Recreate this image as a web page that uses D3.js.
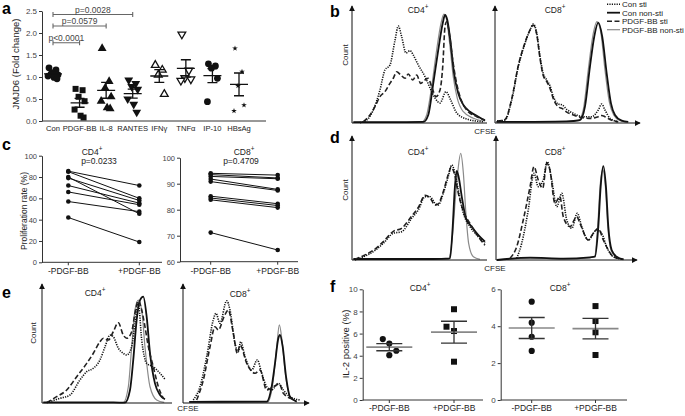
<!DOCTYPE html>
<html lang="en">
<head>
<meta charset="UTF-8">
<title>JMJD6 / PDGF-BB figure</title>
<style>
    body { margin: 0; background: #fff; }
</style>
</head>
<body>
<script src="https://cdn.jsdelivr.net/npm/d3@7"></script>
<script type="text/javascript">
    // ---- panel a : JMJD6 fold change
    var aCats = ["Con", "PDGF-BB", "IL-8", "RANTES", "IFNγ", "TNFα", "IP-10", "HBsAg"];
    var aCon = [1.21, 1.16, 1.1, 1.05, 1.02, 0.99, 0.96];
    var aPdgf = [0.73, 0.7, 0.55, 0.45, 0.26, 0.12, 0.08];
    var aIl8 = [1.65, 0.9, 0.75, 0.55, 0.45, 0.3, 0.28];
    var aRantes = [0.93, 0.85, 0.78, 0.72, 0.5, 0.38, 0.2];
    var aIfng = [1.27, 1.16, 1.05, 0.61];
    var aTnfa = [1.97, 1.15, 0.98, 0.95, 0.92];
    var aIp10 = [1.3, 1.25, 1.2, 0.97, 0.44];
    var aHbsag = [1.65, 1.12, 0.8, 0.36, 0.23];
    var aTicks = [0, 0.5, 1.0, 1.5, 2.0, 2.5];
    var aCompare = [["RANTES", 2.42, "p=0.0028"], ["IL-8", 2.16, "p=0.0579"], ["PDGF-BB", 1.78, "p<0.0001"]];

    // ---- panel c : proliferation rate, paired
    var cGroups = ["-PDGF-BB", "+PDGF-BB"];
    var cCd4Minus = [85.5, 85, 80, 79, 72, 66, 57, 42];
    var cCd4Plus = [72, 60, 45.5, 58, 55.5, 54, 47.5, 19];
    var cCd8Minus = [94, 93.5, 92.8, 91.8, 90.8, 85.2, 84.5, 83.8, 71.2];
    var cCd8Plus = [93.3, 92.2, 91.9, 87.8, 87.4, 82.3, 81.6, 80.8, 64.5];
    var cCd4Ticks = [0, 20, 40, 60, 80, 100];
    var cCd8Ticks = [60, 70, 80, 90, 100];

    // ---- panel f : IL-2 positive
    var fCd4Minus = [5.5, 5.1, 4.45, 4.05];
    var fCd4Plus = [8.2, 6.62, 6.23, 3.46];
    var fCd8Minus = [5.33, 4.19, 3.43, 2.66];
    var fCd8Plus = [5.09, 4.28, 3.67, 2.44];
    var fCd4Ticks = [0, 2, 4, 6, 8, 10];
    var fCd8Ticks = [0, 2, 4, 6];

    // ---- CFSE histograms, [CFSE %, count %]
    var legendNames = ["Con sti", "Con non-sti", "PDGF-BB sti", "PDGF-BB non-sti"];

    var bCd4ConSti = [[5.9,0.3],[10.9,2.6],[15.8,11.3],[20.7,28.7],[24.4,46.1],[28.1,50.4],[31.9,72.2],[34.3,84.3],[36.8,75],[40,60.9],[43,62.9],[45.4,59.1],[49.1,50.4],[54.1,40.3],[57.8,30.4],[61.5,21.7],[65.2,17.4],[69.6,27.2],[73.1,20],[77.6,8.7],[85,3.5],[97,1.1]];
    var bCd4ConNon = [[1,0.8],[40,0.8],[52.8,0.9],[56.5,7],[60.2,34.5],[63.9,63.5],[67.2,86.7],[68.9,93.9],[70.6,89.6],[73.1,69.3],[75.6,43.2],[78.7,25.8],[82.5,15.7],[87.4,9.8],[93.6,5.5],[98.5,2]];
    var bCd4PdgfSti = [[8.4,1.1],[13.3,7],[17,14.2],[20.7,22.9],[24.4,27.2],[28.1,34.5],[30.6,38.9],[33.1,44.6],[36.1,41.7],[39.3,38.9],[41.7,42.6],[45,37.4],[47.9,41.7],[50.9,34.5],[54.1,37.4],[56.5,38.9],[59,31.6],[62.2,22.9],[65.2,28.7],[67.2,49],[68.9,83.7],[70.1,88.1],[72.1,78],[74.6,54.8],[77,37.4],[80,22.9],[85,11.3],[92.4,5.5],[98.5,2.6]];
    var bCd4PdgfNon = [[1,0.5],[40,0.5],[51.6,0.9],[55.3,7],[59,31.6],[62.7,63.5],[65.9,86.7],[68.1,94.8],[70.1,89.6],[72.6,66.3],[75,40.3],[78,21.5],[82.5,9.8],[89.9,4.1],[97.3,1.5]];

    var bCd8ConSti = [[1.4,1.7],[7,2.6],[11.7,20],[16.3,49],[21,69.3],[24.5,80.9],[26.8,86.1],[29.2,78],[31.5,57.7],[33.8,42.6],[36.2,37.4],[38.5,32.2],[40.8,22.9],[44.3,16.5],[47.1,15.7],[50.1,11.9],[54.8,8.4],[61.7,5.5],[67.6,5.5],[72.2,11.3],[74.6,16.5],[76.9,11.3],[80.4,4.1],[86.2,1.1]];
    var bCd8ConNon = [[1,0.9],[50,1.5],[59.4,2.6],[62.9,14.2],[66.4,49],[69.4,75],[72.2,87.2],[75,75],[78.1,43.2],[81.1,17.1],[83.9,7],[88.6,2],[93.2,0.9]];
    var bCd8PdgfSti = [[1.4,1.7],[7,3],[11.7,21],[16.3,50],[21,70],[24.5,81],[26.8,85],[29.2,77],[31.5,56],[33.8,41],[36.2,36],[38.5,30],[40.8,21],[44.3,14],[47.1,12.5],[50.1,9.5],[54.8,7],[61.7,4.5],[67.6,4],[72.2,5.5],[74.6,6.5],[76.9,5.5],[80.4,3],[86.2,1]];
    var bCd8PdgfNon = [[1,0.9],[50,1.2],[58.3,2],[61.7,11.3],[65.2,46.1],[68.3,75],[71.3,88.1],[74.1,78],[76.9,46.1],[79.9,18.5],[83,7],[87.4,2],[92.1,0.9]];

    var dCd4ConSti = [[2.2,0],[8.4,2.7],[15.8,6.8],[23.2,13.7],[30.6,21.9],[36.8,23.2],[44.2,34.2],[49.1,41],[54.1,51.9],[57.8,51.9],[61.5,46.5],[63.9,45.1],[67.6,54.7],[71.3,68.3],[73.9,77.9],[76.3,71.1],[78.7,57.4],[82.5,38.3],[87.4,27.3],[92.4,20.5],[98.5,13.7]];
    var dCd4ConNon = [[1,0.8],[60,0.8],[72.6,1.4],[74.6,27.3],[76.1,58],[77.6,73],[79,68],[81.3,52],[84.4,34.2],[88.7,27.3],[93.6,20.5],[98.5,15]];
    var dCd4PdgfSti = [[2,0.5],[8.4,3.5],[15.8,8],[23.2,15],[30.6,23.5],[36.8,26],[44.2,36],[49.1,43],[54.1,53],[57.8,51],[61.5,45],[63.9,46],[67.6,56],[71.3,70],[73.5,76],[76,70],[78.7,55],[82.5,40],[87.4,30],[92.4,21],[98.5,12]];
    var dCd4PdgfNon = [[1,0.6],[60,0.6],[71.3,0.6],[74.6,21.9],[76.5,49.2],[78.5,73.8],[80.5,87.4],[82.5,71.1],[84.2,41],[86.4,13.7],[89.9,2.7],[94.8,0.6]];

    var dCd8ConSti = [[14.9,1.4],[18.5,13.7],[23.2,41],[27.3,71.1],[30.4,60.1],[34,65.6],[36.9,80.6],[40.1,65.6],[43.7,43.7],[47.3,54.7],[50.9,32.8],[54.5,26],[58.5,38.3],[61.7,27.3],[66.4,16.4],[72.4,24.6],[76,21.9],[79.6,10.9],[84.4,2.7],[91.6,0.6]];
    var dCd8ConNon = [[0.7,0],[24.5,1.9],[48.4,1.1],[67.6,2.2],[71.2,2.7],[73.6,27.3],[75.3,60.1],[77.2,77],[79.1,60.1],[80.8,27.3],[83.2,8.2],[86.8,2.7],[91.6,0.6]];
    var dCd8PdgfSti = [[10.1,1.4],[14.9,10.9],[19.6,32.8],[24.5,60.1],[27.3,76.5],[30.4,65.6],[33.6,58.8],[36.5,79.3],[38.8,73.8],[42.4,46.5],[46,51.9],[48.4,35.5],[53.2,27.3],[58.1,35.5],[60.4,30.1],[66.4,16.4],[70,21.9],[73.6,26],[77.2,16.4],[80.8,8.2],[84.4,2.7],[91.6,0.6]];
    var dCd8PdgfNon = [[0.7,0],[24.5,1.5],[48.4,1],[67.6,1.8],[71,3],[73.3,30],[75,62],[76.8,73.8],[78.7,60],[80.4,28],[82.8,8],[86.4,2.5],[91.2,0.5]];

    var eCd4ConSti = [[3.6,0.3],[13.8,4],[21.5,6.8],[29.2,19.7],[34.4,26.8],[39.5,29.7],[44.6,36.8],[48.5,48.1],[52.3,58.1],[54.8,56.7],[58.7,46.8],[62.5,42.5],[65.2,41],[69,48.1],[71.5,68.1],[74.1,85.2],[76.7,53.8],[80.5,33.9],[85.6,31],[90.8,25.4],[94.6,20.3]];
    var eCd4ConNon = [[1,0.5],[55,0.5],[63.8,0.3],[67.7,11.1],[70.2,36.8],[72.8,70.9],[75.4,88],[77.9,90.9],[80.5,73.8],[83.1,42.5],[86.9,16.8],[90.8,6.8],[94.6,3.2]];
    var eCd4PdgfSti = [[3.6,0.3],[11.3,5.4],[19,11.1],[26.7,22.5],[34.4,33.9],[39.5,42.5],[44.6,52.4],[47.2,55.3],[51,53.8],[54.8,60.9],[58.7,68.6],[62.5,58.1],[65.2,55.3],[69,60.9],[71.5,76.7],[74.1,87.4],[76.7,79.5],[79.2,65.2],[81.8,48.1],[85.6,31],[89.5,13.9],[93.3,4]];
    var eCd4PdgfNon = [[1,0.3],[55,0.3],[62.5,0.3],[66.4,13.9],[69,48.1],[71.5,79.5],[74.1,88],[76.7,79.5],[79.2,48.1],[83.1,13.9],[88.2,2.6],[94,0.5]];

    var eCd8ConSti = [[8.3,2.6],[13.7,13.9],[19.1,39.6],[24.4,70.9],[26.6,76.7],[29.8,68.1],[35.2,87.4],[37.9,79.5],[41.9,51],[44.6,43.8],[46.5,52.4],[50,39.6],[55.4,28.2],[59.9,36.8],[63.5,25.4],[67.5,13.9],[71.5,11.1],[76.9,16.8],[80.9,11.1],[86.3,5.4],[94.4,2.6]];
    var eCd8ConNon = [[5,1],[60,1.1],[67.5,1.1],[71.5,13.9],[74.2,33.9],[76.9,55.3],[78.2,58.1],[80.4,48.1],[83.1,22.5],[86.3,5.4],[91.7,1.1]];
    var eCd8PdgfSti = [[11,2.6],[16.4,19.7],[21.8,48.1],[25.8,65.2],[28.5,62.4],[33.1,73.8],[36.5,79.5],[40.6,59.6],[43.8,42.5],[46,49.6],[51.4,33.9],[58.1,25.4],[62.1,28.2],[67.5,11.1],[72.8,13.9],[77.7,16.2],[80.9,8.3],[89,3.2]];
    var eCd8PdgfNon = [[5,0.8],[60,0.8],[68.5,0.9],[72.8,19.7],[75.6,48.1],[77.7,66.7],[79.8,53.8],[82.5,25.4],[86.3,5.4],[91.7,1.1]];

    //----------------------------------------------------------------
    var FONT = '"Liberation Sans", Arial, sans-serif';
    var w = 685, h = 416;
    var svg = d3.select("body").append("svg")
        .attr("width", w).attr("height", h)
        .style("font-family", FONT);

    svg.append("defs").append("marker")
        .attr("id", "arr").attr("viewBox", "0 0 8 8")
        .attr("refX", 7).attr("refY", 4)
        .attr("markerWidth", 6).attr("markerHeight", 6)
        .attr("markerUnits", "userSpaceOnUse").attr("orient", "auto")
        .append("path").attr("d", "M0,0L8,4L0,8z").attr("fill", "#111");

    function label(t, x, y, size, anchor, fill) {
        return svg.append("text").attr("x", x).attr("y", y)
            .attr("font-size", size).attr("text-anchor", anchor || "middle")
            .attr("fill", fill || "#222").text(t);
    }
    function panelLabel(t, x, y) {
        label(t, x, y, 16, "start", "#000").attr("font-weight", "bold");
    }
    function supText(x, y, base, sup, size) {
        var t = svg.append("text").attr("x", x).attr("y", y)
            .attr("text-anchor", "middle").attr("font-size", size).attr("fill", "#222");
        t.append("tspan").text(base);
        t.append("tspan").attr("dy", -4).attr("font-size", size * 0.75).text(sup);
    }
    function vText(t, x, y, size) {
        svg.append("text").attr("transform", "translate(" + x + "," + y + ") rotate(-90)")
            .attr("text-anchor", "middle").attr("font-size", size).attr("fill", "#222").text(t);
    }
    function leftAxis(scale, ticks, x, fmt, size) {
        var g = svg.append("g").attr("transform", "translate(" + x + ",0)")
            .call(d3.axisLeft(scale).tickValues(ticks).tickFormat(fmt)
                .tickSize(3).tickSizeOuter(0).tickPadding(2));
        g.attr("font-family", FONT).attr("font-size", size);
        g.select(".domain").attr("stroke", "#333");
        g.selectAll(".tick line").attr("stroke", "#333");
        g.selectAll(".tick text").attr("fill", "#444");
        return g;
    }
    function bottomLine(x1, x2, y, xs, ly, size) {
        svg.append("line").attr("x1", x1).attr("x2", x2).attr("y1", y).attr("y2", y).attr("stroke", "#333");
        xs.domain().forEach(function(c) {
            svg.append("line").attr("x1", xs(c)).attr("x2", xs(c)).attr("y1", y).attr("y2", y + 3).attr("stroke", "#333");
            label(c, xs(c), ly, size);
        });
    }

    // ================= panel a
    panelLabel("a", 2, 14);
    var ay = d3.scaleLinear().domain([0, 2.5]).range([121, 11]);
    var ax = d3.scalePoint().domain(aCats).range([53, 239]);
    var aData = [aCon, aPdgf, aIl8, aRantes, aIfng, aTnfa, aIp10, aHbsag];
    var aSym = [d3.symbolCircle, d3.symbolSquare, d3.symbolTriangle, d3.symbolTriangle,
        d3.symbolTriangle, d3.symbolTriangle, d3.symbolCircle, d3.symbolStar];
    var aRot = [0, 0, 0, 180, 0, 180, 0, 0];
    var aOpen = [false, false, false, false, true, true, false, false];
    var aSize = [36, 36, 34, 34, 26, 26, 36, 10];
    var jit = [-4, 3, -1, 5, -5, 1, 4];

    leftAxis(ay, aTicks, 42, d3.format(".1f"), 8);
    svg.append("line").attr("x1", 42).attr("x2", 266).attr("y1", 121).attr("y2", 121).attr("stroke", "#333");
    aCats.forEach(function(c) { label(c, ax(c), 130.5, 7.6); });
    vText("JMJD6 (Fold change)", 18.5, 64, 9.5);

    aData.forEach(function(vals, k) {
        var cx = ax(aCats[k]);
        var sym = d3.symbol().type(aSym[k]).size(aSize[k]);
        svg.append("g").selectAll("path").data(vals).enter().append("path")
            .attr("d", sym)
            .attr("transform", function(d, i) {
                return "translate(" + (cx + jit[i % jit.length]) + "," + ay(d) + ") rotate(" + aRot[k] + ")";
            })
            .attr("fill", aOpen[k] ? "#fff" : "#111")
            .attr("stroke", "#111").attr("stroke-width", aOpen[k] ? 1.3 : 0);
        var m = d3.mean(vals), s = d3.deviation(vals) / Math.sqrt(vals.length);
        var p = "M" + cx + "," + ay(m + s) + "V" + ay(m - s) +
            "M" + (cx - 5) + "," + ay(m + s) + "h10" +
            "M" + (cx - 5) + "," + ay(m - s) + "h10" +
            "M" + (cx - 9) + "," + ay(m) + "h18";
        svg.append("path").attr("d", p).attr("stroke", "#111").attr("stroke-width", 1.3).attr("fill", "none");
    });

    aCompare.forEach(function(c) {
        var x1 = ax("Con"), x2 = ax(c[0]), y = ay(c[1]);
        svg.append("path")
            .attr("d", "M" + x1 + "," + (y - 2.5) + "V" + (y + 2.5) + "M" + x1 + "," + y + "H" + x2 +
                "M" + x2 + "," + (y - 2.5) + "V" + (y + 2.5))
            .attr("stroke", "#666").attr("stroke-width", 1.1).attr("fill", "none");
        label(c[2], (x1 + x2) / 2, y - 1.8, 8.5, "middle", "#444");
    });

    // ================= histograms (b, d, e)
    var styles = [
        {stroke: "#111", width: 1.6, dash: "1.2,1.2"},
        {stroke: "#111", width: 1.8, dash: null},
        {stroke: "#222", width: 1.6, dash: "5,2.5"},
        {stroke: "#8a8a8a", width: 1.2, dash: null}
    ];
    var hists = [
        {x0: 352, x1: 487, base: 123, top: 8, arrow: false, t: "CD4", tx: 418, ty: 13,
            curves: [bCd4ConSti, bCd4ConNon, bCd4PdgfSti, bCd4PdgfNon]},
        {x0: 495, x1: 638, base: 123, top: 8, arrow: true, t: "CD8", tx: 555, ty: 13,
            curves: [bCd8ConSti, bCd8ConNon, bCd8PdgfSti, bCd8PdgfNon]},
        {x0: 352, x1: 487, base: 260, top: 138, arrow: false, t: "CD4", tx: 418, ty: 155,
            curves: [dCd4ConSti, dCd4ConNon, dCd4PdgfSti, dCd4PdgfNon]},
        {x0: 496, x1: 635, base: 260, top: 138, arrow: true, t: "CD8", tx: 555, ty: 155,
            curves: [dCd8ConSti, dCd8ConNon, dCd8PdgfSti, dCd8PdgfNon]},
        {x0: 42, x1: 172, base: 403, top: 286, arrow: false, t: "CD4", tx: 95, ty: 295.5,
            curves: [eCd4ConSti, eCd4ConNon, eCd4PdgfSti, eCd4PdgfNon]},
        {x0: 183, x1: 307, base: 403, top: 286, arrow: true, t: "CD8", tx: 240, ty: 297,
            curves: [eCd8ConSti, eCd8ConNon, eCd8PdgfSti, eCd8PdgfNon]}
    ];

    hists.forEach(function(p) {
        var x = d3.scaleLinear().domain([0, 100]).range([p.x0, p.x1]);
        var y = d3.scaleLinear().domain([0, 100]).range([p.base, p.top]);
        var line = d3.line()
            .x(function(d) { return x(d[0]); })
            .y(function(d) { return y(d[1]); })
            .curve(d3.curveMonotoneX);
        var g = svg.append("g");
        [3, 1, 2, 0].forEach(function(k) {
            g.append("path").datum(p.curves[k]).attr("d", line)
                .attr("fill", "none")
                .attr("stroke", styles[k].stroke)
                .attr("stroke-width", styles[k].width)
                .attr("stroke-dasharray", styles[k].dash)
                .attr("stroke-linejoin", "round");
        });
        g.append("line").attr("x1", p.x0).attr("x2", p.x0).attr("y1", p.base).attr("y2", p.top - 2)
            .attr("stroke", "#111").attr("marker-end", "url(#arr)");
        var xl = g.append("line").attr("x1", p.x0).attr("x2", p.arrow ? p.x1 + 2 : p.x1)
            .attr("y1", p.base).attr("y2", p.base).attr("stroke", "#111");
        if (p.arrow) xl.attr("marker-end", "url(#arr)");
        supText(p.tx, p.ty, p.t, "+", 8.5);
    });

    panelLabel("b", 330, 17);
    panelLabel("d", 330, 143);
    panelLabel("e", 2, 298);
    vText("Count", 348, 55, 8);
    vText("Count", 348, 190, 8);
    vText("Count", 36, 333, 8);
    label("CFSE", 485, 133.5, 8);
    label("CFSE", 495, 271, 8);
    label("CFSE", 188, 411, 8);

    // legend
    var legY = [7, 15.5, 24, 32.5];
    legendNames.forEach(function(n, k) {
        svg.append("line").attr("x1", 607).attr("x2", 620)
            .attr("y1", legY[k] - 2.8).attr("y2", legY[k] - 2.8)
            .attr("stroke", styles[k].stroke).attr("stroke-width", styles[k].width)
            .attr("stroke-dasharray", styles[k].dash);
        label(n, 622, legY[k], 8, "start");
    });

    // ================= panel c
    panelLabel("c", 2, 150);
    var cx4 = d3.scalePoint().domain(cGroups).range([68.3, 139.3]);
    var cy4 = d3.scaleLinear().domain([0, 100]).range([262.3, 155.7]);
    var cx8 = d3.scalePoint().domain(cGroups).range([210.7, 277.7]);
    var cy8 = d3.scaleLinear().domain([60, 100]).range([261.7, 157.7]);

    function paired(xs, ys, before, after) {
        var g = svg.append("g");
        before.forEach(function(b, i) {
            g.append("line")
                .attr("x1", xs(cGroups[0])).attr("y1", ys(b))
                .attr("x2", xs(cGroups[1])).attr("y2", ys(after[i]))
                .attr("stroke", "#111").attr("stroke-width", 1);
            g.append("circle").attr("cx", xs(cGroups[0])).attr("cy", ys(b)).attr("r", 2.3).attr("fill", "#111");
            g.append("circle").attr("cx", xs(cGroups[1])).attr("cy", ys(after[i])).attr("r", 2.3).attr("fill", "#111");
        });
    }
    leftAxis(cy4, cCd4Ticks, 42, d3.format("d"), 7.5);
    leftAxis(cy8, cCd8Ticks, 180, d3.format("d"), 7.5);
    bottomLine(42, 162, 262.3, cx4, 273.5, 8.5);
    bottomLine(180, 298, 261.7, cx8, 273.5, 8.5);
    paired(cx4, cy4, cCd4Minus, cCd4Plus);
    paired(cx8, cy8, cCd8Minus, cCd8Plus);
    vText("Proliferation rate (%)", 27, 211, 8.5);
    supText(92, 154.5, "CD4", "+", 8.5);
    label("p=0.0233", 99, 163.5, 8.5);
    supText(244, 154.5, "CD8", "+", 8.5);
    label("p=0.4709", 241, 163.5, 8.5);

    // ================= panel f
    panelLabel("f", 330, 292);
    var fx4 = d3.scalePoint().domain(cGroups).range([389.3, 454]);
    var fy4 = d3.scaleLinear().domain([0, 10]).range([400, 289.3]);
    var fx8 = d3.scalePoint().domain(cGroups).range([531.7, 595.5]);
    var fy8 = d3.scaleLinear().domain([0, 6]).range([400, 289.3]);
    var fJit4 = [[-6.5, 0, 7, 0], [0, -7.5, 0, 0]];
    var fJit8 = [[0, 0, 0, 0], [0, 0, 0, 0]];

    function dotGroup(xs, ys, vals, gi, jitter) {
        var cx = xs(cGroups[gi]);
        var sym = d3.symbol().type(gi === 0 ? d3.symbolCircle : d3.symbolSquare).size(gi === 0 ? 30 : 36);
        svg.append("g").selectAll("path").data(vals).enter().append("path")
            .attr("d", sym)
            .attr("transform", function(d, i) { return "translate(" + (cx + jitter[gi][i]) + "," + ys(d) + ")"; })
            .attr("fill", "#111");
        var m = d3.mean(vals), s = d3.deviation(vals) / Math.sqrt(vals.length);
        svg.append("path").attr("d", "M" + (cx - 23) + "," + ys(m) + "h46")
            .attr("stroke", "#888").attr("stroke-width", 1.6);
        svg.append("path")
            .attr("d", "M" + cx + "," + ys(m + s) + "V" + ys(m - s) +
                "M" + (cx - 13) + "," + ys(m + s) + "h26" +
                "M" + (cx - 13) + "," + ys(m - s) + "h26")
            .attr("stroke", "#333").attr("stroke-width", 1.3).attr("fill", "none");
    }
    leftAxis(fy4, fCd4Ticks, 362.7, d3.format("d"), 8);
    leftAxis(fy8, fCd8Ticks, 500.7, d3.format("d"), 8);
    bottomLine(362.7, 483, 400, fx4, 411, 8.5);
    bottomLine(500.7, 627, 400, fx8, 411, 8.5);
    dotGroup(fx4, fy4, fCd4Minus, 0, fJit4);
    dotGroup(fx4, fy4, fCd4Plus, 1, fJit4);
    dotGroup(fx8, fy8, fCd8Minus, 0, fJit8);
    dotGroup(fx8, fy8, fCd8Plus, 1, fJit8);
    vText("IL-2 positive (%)", 349, 344, 9.5);
    supText(420, 291, "CD4", "+", 8.5);
    supText(560, 291, "CD8", "+", 8.5);
</script>
</body>
</html>
